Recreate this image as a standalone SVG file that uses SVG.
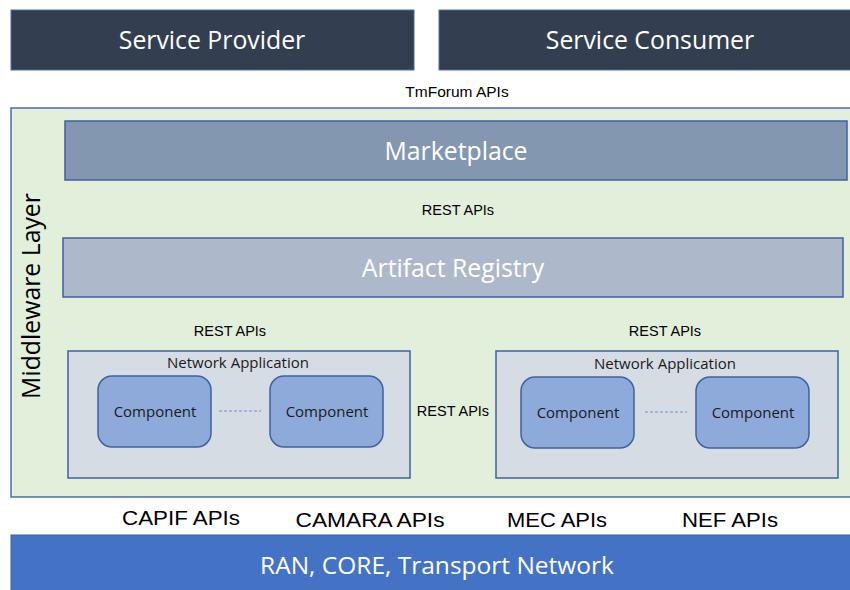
<svg xmlns="http://www.w3.org/2000/svg" width="850" height="590" viewBox="0 0 850 590">
<style>
.hdr{fill:#333f50;stroke:#4a6ea8;stroke-width:1}
.ht{font-family:"Open Sans","Noto Sans",sans-serif;font-size:24.8px;fill:#ffffff;text-anchor:middle}
.lbl{font-family:"Liberation Sans",Arial,sans-serif;font-size:14.5px;fill:#000;text-anchor:middle}
.api{font-family:"Liberation Sans",Arial,sans-serif;font-size:21px;fill:#000;text-anchor:middle}
.na{fill:#d6dce4;stroke:#3f62a0;stroke-width:1.5}
.comp{fill:#8eaadb;stroke:#3f62a0;stroke-width:1.5}
.ct{font-family:"Open Sans","Noto Sans",sans-serif;font-size:15px;fill:#1a1a1a;text-anchor:middle}
.dash{stroke:#6f8fd0;stroke-width:1;stroke-dasharray:3,2;fill:none}
</style>
<rect width="850" height="590" fill="#ffffff"/>
<g id="service-provider">
<rect class="hdr" x="11" y="10" width="403" height="60"/>
<text class="ht" x="212" y="49">Service Provider</text>
</g>
<g id="service-consumer">
<rect class="hdr" x="439" y="10" width="415" height="60"/>
<text class="ht" x="650" y="49">Service Consumer</text>
</g>
<text class="lbl" x="457" y="97" style="font-size:15.5px">TmForum APIs</text>
<g id="middleware">
<rect x="11" y="108" width="845" height="389" fill="#e2efda" stroke="#4a6ea8" stroke-width="1.5"/>
<text class="ht" transform="translate(40,296) rotate(-90)" style="fill:#000">Middleware Layer</text>
</g>
<g id="marketplace">
<rect x="65" y="121" width="782" height="59" fill="#8497b0" stroke="#3f62a0" stroke-width="1.5"/>
<text class="ht" x="456" y="160">Marketplace</text>
</g>
<text class="lbl" x="458" y="215">REST APIs</text>
<g id="artifact-registry">
<rect x="63" y="238" width="780" height="59" fill="#adb9ca" stroke="#3f62a0" stroke-width="1.5"/>
<text class="ht" x="453" y="277">Artifact Registry</text>
</g>
<text class="lbl" x="230" y="336">REST APIs</text>
<text class="lbl" x="665" y="336">REST APIs</text>
<text class="lbl" x="453" y="416">REST APIs</text>
<g id="network-app-1">
<rect class="na" x="68" y="351" width="342" height="127"/>
<text class="ct" x="238" y="368">Network Application</text>
</g>
<g id="component-1a">
<rect class="comp" x="98" y="376" width="113" height="71" rx="14"/>
<text class="ct" x="155" y="417">Component</text>
</g>
<g id="component-1b">
<rect class="comp" x="270" y="376" width="113" height="71" rx="14"/>
<text class="ct" x="327" y="417">Component</text>
</g>
<g id="network-app-2">
<rect class="na" x="496" y="351" width="342" height="127"/>
<text class="ct" x="665" y="369">Network Application</text>
</g>
<g id="component-2a">
<rect class="comp" x="521" y="377" width="113" height="71" rx="14"/>
<text class="ct" x="578" y="418">Component</text>
</g>
<g id="component-2b">
<rect class="comp" x="696" y="377" width="113" height="71" rx="14"/>
<text class="ct" x="753" y="418">Component</text>
</g>
<g id="connectors">
<line class="dash" x1="219" y1="411" x2="261" y2="411"/>
<line class="dash" x1="645" y1="412" x2="687" y2="412"/>
</g>
<text class="api" x="181" y="525" textLength="118" lengthAdjust="spacingAndGlyphs">CAPIF APIs</text>
<text class="api" x="370" y="527" textLength="149" lengthAdjust="spacingAndGlyphs">CAMARA APIs</text>
<text class="api" x="557" y="527" textLength="100" lengthAdjust="spacingAndGlyphs">MEC APIs</text>
<text class="api" x="730" y="527" textLength="96" lengthAdjust="spacingAndGlyphs">NEF APIs</text>
<g id="network">
<rect x="11" y="535" width="845" height="60" fill="#4472c4" stroke="#3a62a8" stroke-width="1"/>
<text class="ht" x="437" y="574" style="font-size:24.5px">RAN, CORE, Transport Network</text>
</g>
</svg>
